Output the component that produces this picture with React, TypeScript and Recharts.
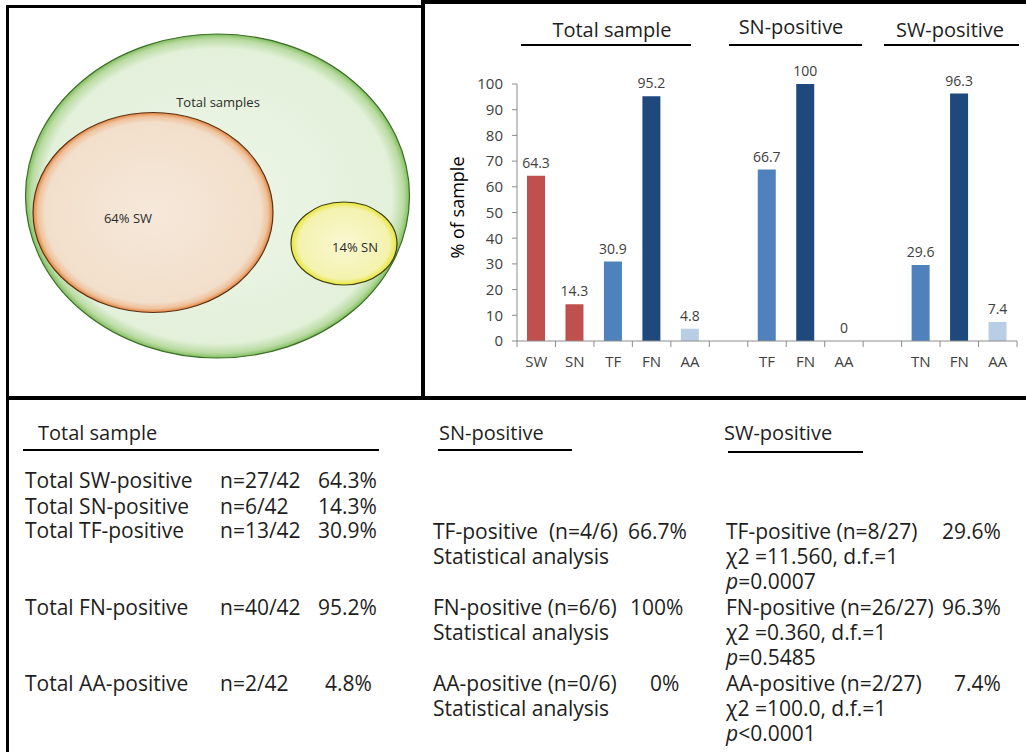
import React from 'react';
import { BarChart, Bar, XAxis, YAxis, Cell, LabelList, ReferenceDot } from 'recharts';

// bar chart data (empty slots are the gaps between groups)
const barCategories = ['SW', 'SN', 'TF', 'FN', 'AA', '', 'TF', 'FN', 'AA', '', 'TN', 'FN', 'AA'];
const barValues = [64.3, 14.3, 30.9, 95.2, 4.8, null, 66.7, 100, 0, null, 29.6, 96.3, 7.4];
const yTicks = [0, 10, 20, 30, 40, 50, 60, 70, 80, 90, 100];
const groupTitles = ['Total sample', 'SN-positive', 'SW-positive'];

// venn
const vennLabels = ['Total samples', '64% SW', '14% SN'];

// table
const totalRows = ['Total SW-positive', 'Total SN-positive', 'Total TF-positive', 'Total FN-positive', 'Total AA-positive'];
const totalCounts = ['n=27/42', 'n=6/42', 'n=13/42', 'n=40/42', 'n=2/42'];
const totalPercents = ['64.3%', '14.3%', '30.9%', '95.2%', '4.8%'];
const snRows = ['TF-positive  (n=4/6)', 'FN-positive (n=6/6)', 'AA-positive (n=0/6)'];
const snPercents = ['66.7%', '100%', '0%'];
const swRows = ['TF-positive (n=8/27)', 'FN-positive (n=26/27)', 'AA-positive (n=2/27)'];
const swPercents = ['29.6%', '96.3%', '7.4%'];
const chiSquares = ['11.560', '0.360', '100.0'];
const pValues = ['=0.0007', '=0.5485', '<0.0001'];

const FONT = '"Open Sans", sans-serif';
const TXT = '#1e1e1e';

const colorFor = (cat: string) => {
  if (cat === 'SW' || cat === 'SN') return '#c0504d';
  if (cat === 'TF' || cat === 'TN') return '#4f81bd';
  if (cat === 'FN') return '#1f497d';
  return '#b9cde5';
};

const barData = barCategories.map((cat, i) => ({
  id: `c${i}`,
  label: cat,
  value: barValues[i],
}));

const CHART_W = 596;
const CHART_H = 396;
const MARGIN = { top: 84, right: 9, bottom: 25, left: 0 };
const Y_W = 87;
const PLOT_W = CHART_W - MARGIN.left - MARGIN.right - Y_W;
const BAND = PLOT_W / barCategories.length;
const AXIS_Y = CHART_H - MARGIN.bottom - 30;

const XTick = (props: any) => {
  const { x, payload } = props;
  const i = payload.index;
  const half = BAND / 2;
  return (
    <g>
      <line x1={x - half} x2={x - half} y1={AXIS_Y} y2={AXIS_Y + 6} stroke="#8c8c8c" />
      {i === barCategories.length - 1 && (
        <line x1={x + half} x2={x + half} y1={AXIS_Y} y2={AXIS_Y + 6} stroke="#8c8c8c" />
      )}
      <text x={x} y={AXIS_Y + 26} textAnchor="middle" fontSize={15} fill="#404040" fontFamily={FONT}>
        {barCategories[i]}
      </text>
    </g>
  );
};

const YLabel = (props: any) => {
  const vb = props.viewBox || { x: 0, y: MARGIN.top, width: Y_W, height: AXIS_Y - MARGIN.top };
  const cx = vb.x + 27;
  const cy = vb.y + vb.height / 2 - 5;
  return (
    <text
      x={cx}
      y={cy}
      transform={`rotate(-90, ${cx}, ${cy})`}
      textAnchor="middle"
      dominantBaseline="central"
      fontSize={18}
      fill="#000"
      fontFamily={FONT}
    >
      % of sample
    </text>
  );
};

// value label above each bar
const ValueLabel = (props: any) => {
  const { x, y, width, value } = props;
  if (value === null || value === undefined || x === undefined) return null;
  return (
    <text x={x + width / 2} y={y - 8} textAnchor="middle" fontSize={14} fill="#404040" fontFamily={FONT}>
      {String(value)}
    </text>
  );
};

// zero-height bars get no rectangle, so their label hangs off a dot at the value
const ZeroLabel = (props: any) => {
  const { viewBox } = props;
  if (!viewBox) return null;
  return (
    <text x={viewBox.x} y={viewBox.y - 8} textAnchor="middle" fontSize={14} fill="#404040" fontFamily={FONT}>
      0
    </text>
  );
};

const Txt = ({ x, y, size = 21, children, center }: any) => (
  <div
    style={{
      position: 'absolute',
      left: center ? x - 80 : x,
      width: center ? 160 : undefined,
      textAlign: center ? 'center' : 'left',
      top: y - 12,
      height: 24,
      lineHeight: '24px',
      fontSize: size,
      fontFamily: FONT,
      color: TXT,
      whiteSpace: 'pre',
    }}
  >
    {children}
  </div>
);

const Rule = ({ x1, x2, y, h = 2 }: any) => (
  <div style={{ position: 'absolute', left: x1, top: y - h / 2, width: x2 - x1, height: h, background: '#000' }} />
);

const Box = ({ x, y, w, h }: any) => (
  <div style={{ position: 'absolute', left: x, top: y, width: w, height: h, background: '#000' }} />
);

const Venn = () => (
  <svg width={421} height={396} style={{ position: 'absolute', left: 0, top: 0 }}>
    <defs>
      <radialGradient id="gTotal">
        <stop offset="0%" stopColor="#eef6e9" />
        <stop offset="91%" stopColor="#e3f0da" />
        <stop offset="97%" stopColor="#b9dba2" />
        <stop offset="100%" stopColor="#80be5c" />
      </radialGradient>
      <radialGradient id="gSW">
        <stop offset="0%" stopColor="#f6e8da" />
        <stop offset="90%" stopColor="#f2dfcb" />
        <stop offset="96%" stopColor="#efc29c" />
        <stop offset="100%" stopColor="#e2843e" />
      </radialGradient>
      <radialGradient id="gSN">
        <stop offset="0%" stopColor="#f9f8d2" />
        <stop offset="86%" stopColor="#f4f2ae" />
        <stop offset="100%" stopColor="#e6e635" />
      </radialGradient>
    </defs>
    <ellipse cx={217.5} cy={196} rx={192} ry={162} fill="url(#gTotal)" stroke="#3c6e28" strokeWidth={1.2} />
    <ellipse cx={153} cy={212.5} rx={120} ry={100} fill="url(#gSW)" stroke="#5c3215" strokeWidth={1.2} />
    <ellipse cx={344} cy={243.5} rx={53} ry={41.5} fill="url(#gSN)" stroke="#3e3e12" strokeWidth={1.2} />
    <text x={218} y={102} textAnchor="middle" dominantBaseline="central" fontSize={13} fill="#2b2b2b" fontFamily={FONT}>
      {vennLabels[0]}
    </text>
    <text x={128} y={218} textAnchor="middle" dominantBaseline="central" fontSize={13} fill="#2b2b2b" fontFamily={FONT}>
      {vennLabels[1]}
    </text>
    <text x={355} y={247} textAnchor="middle" dominantBaseline="central" fontSize={13} fill="#2b2b2b" fontFamily={FONT}>
      {vennLabels[2]}
    </text>
  </svg>
);

const App = () => {
  const totalY = [480, 506, 530, 607, 683];
  const totalPctX = [318, 318, 318, 318, 325];
  const blockY = [531, 607, 683];
  const snPctX = [628, 630, 650];
  const swPctX = [942, 942, 954];

  return (
    <div
      style={{
        position: 'absolute',
        left: 0,
        top: 0,
        width: 1026,
        height: 752,
        background: '#fff',
        overflow: 'hidden',
        fontFamily: FONT,
      }}
    >
      <Venn />

      {/* bar chart panel */}
      <div style={{ position: 'absolute', left: 430, top: 0 }}>
        <BarChart width={CHART_W} height={CHART_H} data={barData} margin={MARGIN}>
          <XAxis
            dataKey="id"
            interval={0}
            tickLine={false}
            axisLine={{ stroke: '#8c8c8c' }}
            height={30}
            tick={<XTick />}
          />
          <YAxis
            domain={[0, 100]}
            ticks={yTicks}
            width={Y_W}
            interval={0}
            tickSize={5}
            tickMargin={9}
            tickLine={{ stroke: '#8c8c8c' }}
            axisLine={{ stroke: '#8c8c8c' }}
            tick={{ fontSize: 15, fill: '#404040', fontFamily: FONT }}
            label={<YLabel />}
          />
          <Bar dataKey="value" barSize={18} isAnimationActive={false}>
            {barData.map((d, i) => (
              <Cell key={`cell-${i}`} fill={colorFor(d.label)} />
            ))}
            <LabelList dataKey="value" content={<ValueLabel />} />
          </Bar>
          {barData
            .filter((d) => d.value === 0)
            .map((d) => (
              <ReferenceDot
                key={d.id}
                x={d.id}
                y={0}
                r={0}
                fill="none"
                stroke="none"
                label={<ZeroLabel />}
              />
            ))}
        </BarChart>
      </div>

      {/* bar chart group headers */}
      <Txt x={612} y={30} size={20} center>{groupTitles[0]}</Txt>
      <Rule x1={521} x2={691} y={45} />
      <Txt x={791} y={27} size={20} center>{groupTitles[1]}</Txt>
      <Rule x1={729} x2={862} y={45} />
      <Txt x={950} y={30} size={20} center>{groupTitles[2]}</Txt>
      <Rule x1={884} x2={1019} y={45} />

      {/* table */}
      <Txt x={38} y={433} size={20}>{groupTitles[0]}</Txt>
      <Rule x1={23} x2={379} y={450} />
      <Txt x={439} y={433} size={20}>{groupTitles[1]}</Txt>
      <Rule x1={438} x2={572} y={450} />
      <Txt x={724} y={433} size={20}>{groupTitles[2]}</Txt>
      <Rule x1={728} x2={863} y={452} />

      {totalRows.map((r, i) => (
        <React.Fragment key={r}>
          <Txt x={25} y={totalY[i]}>{r}</Txt>
          <Txt x={220} y={totalY[i]}>{totalCounts[i]}</Txt>
          <Txt x={totalPctX[i]} y={totalY[i]}>{totalPercents[i]}</Txt>
        </React.Fragment>
      ))}

      {snRows.map((r, i) => (
        <React.Fragment key={r}>
          <Txt x={433} y={blockY[i]}>{r}</Txt>
          <Txt x={snPctX[i]} y={blockY[i]}>{snPercents[i]}</Txt>
          <Txt x={433} y={blockY[i] + 25}>Statistical analysis</Txt>
        </React.Fragment>
      ))}

      {swRows.map((r, i) => (
        <React.Fragment key={r}>
          <Txt x={726} y={blockY[i]}>{r}</Txt>
          <Txt x={swPctX[i]} y={blockY[i]}>{swPercents[i]}</Txt>
          <Txt x={726} y={blockY[i] + 25}>{`χ2 =${chiSquares[i]}, d.f.=1`}</Txt>
          <Txt x={726} y={blockY[i] + 50}>
            <i>p</i>
            {pValues[i]}
          </Txt>
        </React.Fragment>
      ))}

      {/* panel frames */}
      <Box x={6} y={5} w={3} h={747} />
      <Box x={6} y={5} w={418} h={3} />
      <Box x={421} y={0} w={4} h={400} />
      <Box x={421} y={0} w={605} h={4} />
      <Box x={6} y={396} w={1020} h={4} />
    </div>
  );
};

export default App;
